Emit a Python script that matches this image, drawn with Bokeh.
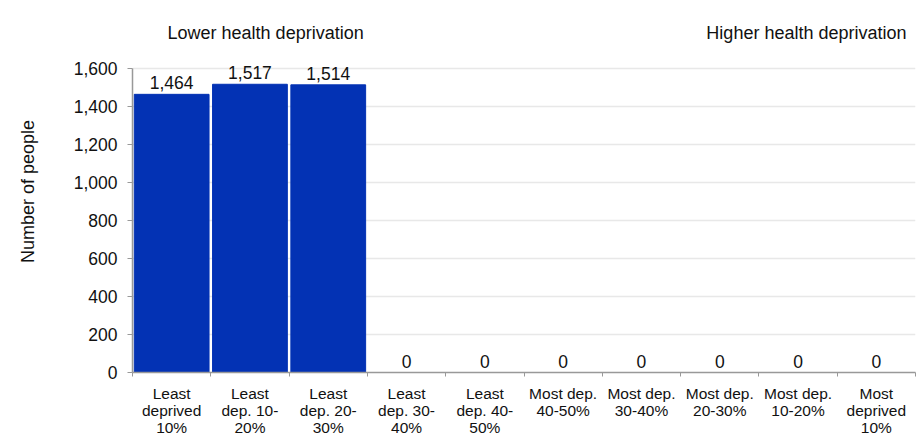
from bokeh.plotting import figure
from bokeh.models import Range1d, FixedTicker, NumeralTickFormatter, ColumnDataSource
from bokeh.core.properties import value
from bokeh.embed import file_html
from bokeh.resources import INLINE

categories = ["Least\ndeprived\n10%", "Least\ndep. 10-\n20%", "Least\ndep. 20-\n30%",
              "Least\ndep. 30-\n40%", "Least\ndep. 40-\n50%", "Most dep.\n40-50%",
              "Most dep.\n30-40%", "Most dep.\n20-30%", "Most dep.\n10-20%",
              "Most\ndeprived\n10%"]
counts = [1464, 1517, 1514, 0, 0, 0, 0, 0, 0, 0]
y_ticks = [0, 200, 400, 600, 800, 1000, 1200, 1400, 1600]
header_left = "Lower health deprivation"
header_right = "Higher health deprivation"

FONT = "Liberation Sans"
n = len(categories)
xs = [i + 0.5 for i in range(n)]
labels = [f"{v:,}" for v in counts]
src = ColumnDataSource(dict(x=xs, top=counts, label=labels))

Y_MAX = 1600
Y_END = 1600 * 362 / 304

p = figure(width=917, height=444, output_backend="svg", toolbar_location=None,
           x_range=Range1d(0, n), y_range=Range1d(0, Y_END),
           min_border_left=132, min_border_top=10, min_border_right=2, min_border_bottom=72)
p.outline_line_color = None
p.background_fill_color = "white"

p.vbar(x="x", top="top", width=0.955, bottom=0, source=src, color="#0332B4")
p.text(x="x", y="top", text="label", source=src, text_align="center", text_baseline="bottom",
       y_offset=-5, text_font=value(FONT), text_font_size="17.5px", text_color="#111111")

# header texts
p.text(x=[1.7], y=[1789], text=[header_left], text_align="center", text_baseline="middle",
       text_font=value(FONT), text_font_size="18px", text_color="#111111")
p.text(x=[9.885], y=[1789], text=[header_right], text_align="right", text_baseline="middle",
       text_font=value(FONT), text_font_size="18px", text_color="#111111")

# x axis
p.xaxis.ticker = FixedTicker(ticks=xs, minor_ticks=list(range(n + 1)))
p.xaxis.major_label_overrides = {x: c for x, c in zip(xs, categories)}
p.xaxis.major_tick_out = 0
p.xaxis.major_tick_in = 0
p.xaxis.minor_tick_out = 4
p.xaxis.minor_tick_in = 0
p.xaxis.minor_tick_line_color = "#999999"
p.xaxis.axis_line_color = "#999999"
p.xaxis.axis_line_width = 1.5
p.xaxis.major_label_standoff = 8
p.xaxis.major_label_text_font = FONT
p.xaxis.major_label_text_font_size = "15.5px"
p.xaxis.major_label_text_color = "#111111"
p.xaxis.major_label_text_line_height = 1.0
p.xgrid.grid_line_color = None

# y axis
p.yaxis.ticker = FixedTicker(ticks=y_ticks, minor_ticks=[])
p.yaxis.bounds = (0, Y_MAX)
p.yaxis.formatter = NumeralTickFormatter(format="0,0")
p.yaxis.major_tick_out = 5
p.yaxis.major_tick_in = 0
p.yaxis.major_tick_line_color = "#999999"
p.yaxis.axis_line_color = "#999999"
p.yaxis.axis_line_width = 1.5
p.yaxis.major_label_standoff = 10
p.yaxis.major_label_text_font = FONT
p.yaxis.major_label_text_font_size = "17.5px"
p.yaxis.major_label_text_color = "#111111"
p.yaxis.axis_label = "Number of people"
p.yaxis.axis_label_text_font = FONT
p.yaxis.axis_label_text_font_size = "18px"
p.yaxis.axis_label_text_font_style = "normal"
p.yaxis.axis_label_text_color = "#111111"
p.yaxis.axis_label_standoff = 33
p.ygrid.grid_line_color = "#e8e8e8"
p.ygrid.grid_line_width = 1.5
p.ygrid.bounds = (0, Y_MAX)

open("out.html", "w").write(file_html(p, INLINE))
